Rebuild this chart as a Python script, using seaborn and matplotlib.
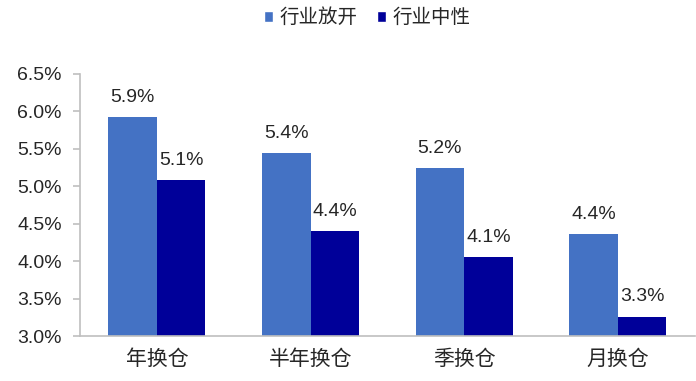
import matplotlib
matplotlib.use("Agg")
import matplotlib.pyplot as plt
import seaborn as sns
import pandas as pd
from matplotlib.patches import Patch

categories = ["年换仓", "半年换仓", "季换仓", "月换仓"]
series_names = ["行业放开", "行业中性"]
open_vals = [5.92, 5.44, 5.24, 4.36]
neutral_vals = [5.08, 4.40, 4.06, 3.26]
yticks = [3.0, 3.5, 4.0, 4.5, 5.0, 5.5, 6.0, 6.5]

colors = ["#4472C4", "#000099"]

sns.set_style("white")
plt.rcParams["font.family"] = ["Liberation Sans", "Noto Sans CJK SC"]

df = pd.DataFrame({
    "cat": categories * 2,
    "series": [series_names[0]] * 4 + [series_names[1]] * 4,
    "val": open_vals + neutral_vals,
})

fig = plt.figure(figsize=(6.96, 3.81), dpi=100)
ax = fig.add_axes([0.115, 0.118, 0.883, 0.688])

sns.barplot(data=df, x="cat", y="val", hue="series", order=categories,
            hue_order=series_names, palette=colors, width=0.63,
            linewidth=0, saturation=1, ax=ax, legend=False)

ax.set_ylim(3.0, 6.5)
ax.set_xlim(-0.5, 3.5)
ax.set_yticks(yticks)
ax.set_yticklabels([f"{v:.1f}%" for v in yticks], fontsize=14, color="#262626")
ax.set_xticks(range(len(categories)))
ax.set_xticklabels(categories, fontsize=15, color="#262626")
ax.set_xlabel("")
ax.set_ylabel("")

for c in ax.containers:
    ax.bar_label(c, labels=[f"{b.get_height():.1f}%" for b in c],
                 padding=8, fontsize=14, color="#262626")

for s in ["top", "right"]:
    ax.spines[s].set_visible(False)
for s in ["left", "bottom"]:
    ax.spines[s].set_color("#BFBFBF")
    ax.spines[s].set_linewidth(1.2)
ax.tick_params(axis="y", which="major", left=True, length=5, width=1.2,
               color="#BFBFBF", pad=8)
ax.tick_params(axis="x", bottom=False, pad=6)

handles = [Patch(facecolor=colors[i], label=series_names[i]) for i in range(2)]
fig.legend(handles=handles, loc="center", bbox_to_anchor=(0.527, 0.953),
           ncol=2, frameon=False, fontsize=14, handlelength=0.5,
           handleheight=0.5, handletextpad=0.3, columnspacing=1.0)

fig.savefig("out.png", dpi=100)
